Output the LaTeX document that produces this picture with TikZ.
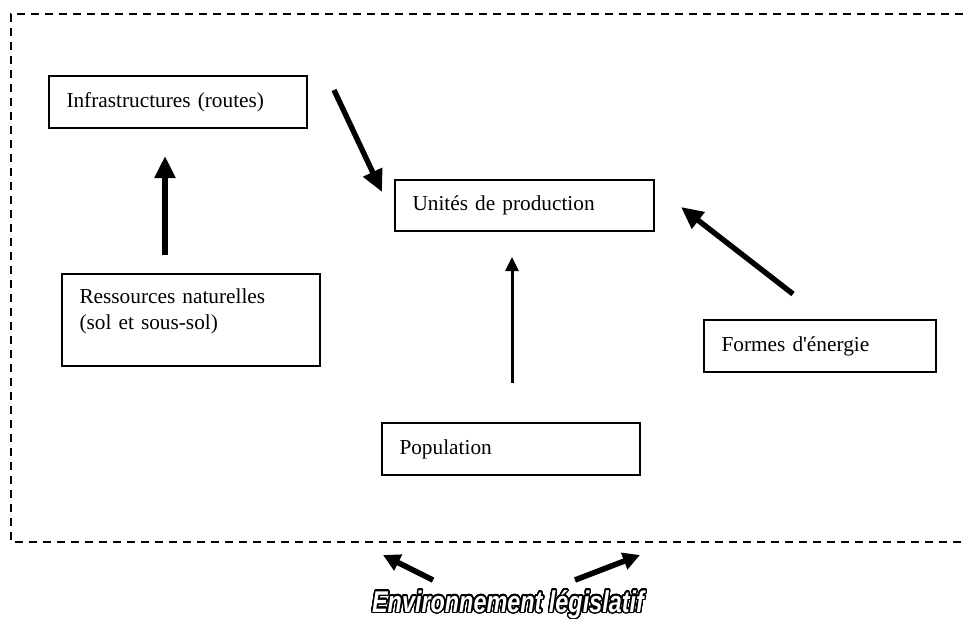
\documentclass[tikz,border=0pt]{standalone}
\usepackage{fontspec}
\setmainfont{Liberation Serif}
\newfontfamily\legisfont[FakeStretch=0.78]{Liberation Sans}
\usepackage{contour}
\contourlength{0.7pt}
\contournumber{32}
\usetikzlibrary{arrows.meta,calc}

\begin{document}
\begin{tikzpicture}[
    x=0.5pt, y=-0.5pt,
    font=\fontsize{10.65pt}{13pt}\selectfont,
    box/.style={draw, line width=1pt, minimum height=26pt, inner xsep=8.75pt, align=left},
    bigarrow/.style={-{Triangle[length=11pt,width=10pt]}, line width=2.7pt},
    thinarrow/.style={-{Triangle[length=7pt,width=6.5pt]}, line width=1.5pt},
    legisarrow/.style={-{Triangle[length=8.5pt,width=8.5pt]}, line width=2.8pt},
    frame/.style={dash pattern=on 4pt off 3pt, line width=0.8pt}
]
    \useasboundingbox (0,0) rectangle (963,618);
    \draw[frame] (963,14) -- (11,14) -- (11,542) -- (963,542);

    \node[box, text width=111.5pt] (infra) at (178,102) {Infrastructures (routes)};
    \node[box, text width=111.5pt, minimum height=46pt, text depth=24.4pt] (ress) at (191,320)
        {Ressources naturelles\\(sol et sous-sol)};
    \node[box, text width=112pt, minimum height=25.5pt] (prod) at (524.5,205.5) {Unités de production};
    \node[box, text width=98.5pt] (energie) at (820,346) {Formes d\textquotesingle énergie};
    \node[box, text width=111.5pt] (pop) at (511,449) {Population};

    \node[anchor=base, inner sep=0pt, font=\legisfont\fontsize{15pt}{18pt}\selectfont\bfseries\itshape] (legis) at (508,612)
        {\contour{black}{\textcolor{white}{Environnement législatif}}};
    \coordinate (legisL) at (383,555);
    \coordinate (legisR) at (640,555);

    \draw[bigarrow] ([shift={(-26,-18)}]ress.north) -- ([shift={(-13,27)}]infra.south);
    \draw[bigarrow] ([shift={(26,-12)}]infra.east) -- ([shift={(-12,-13.5)}]prod.west);
    \draw[bigarrow] ([shift={(-27,-25)}]energie.north) -- ([shift={(26,1.5)}]prod.east);
    \draw[thinarrow] ([shift={(1,-39)}]pop.north) -- ([shift={(-12.5,25)}]prod.south);
    \draw[legisarrow] ([shift={(-75,-32)}]legis.base) -- (legisL);
    \draw[legisarrow] ([shift={(67,-32)}]legis.base) -- (legisR);
\end{tikzpicture}
\end{document}
